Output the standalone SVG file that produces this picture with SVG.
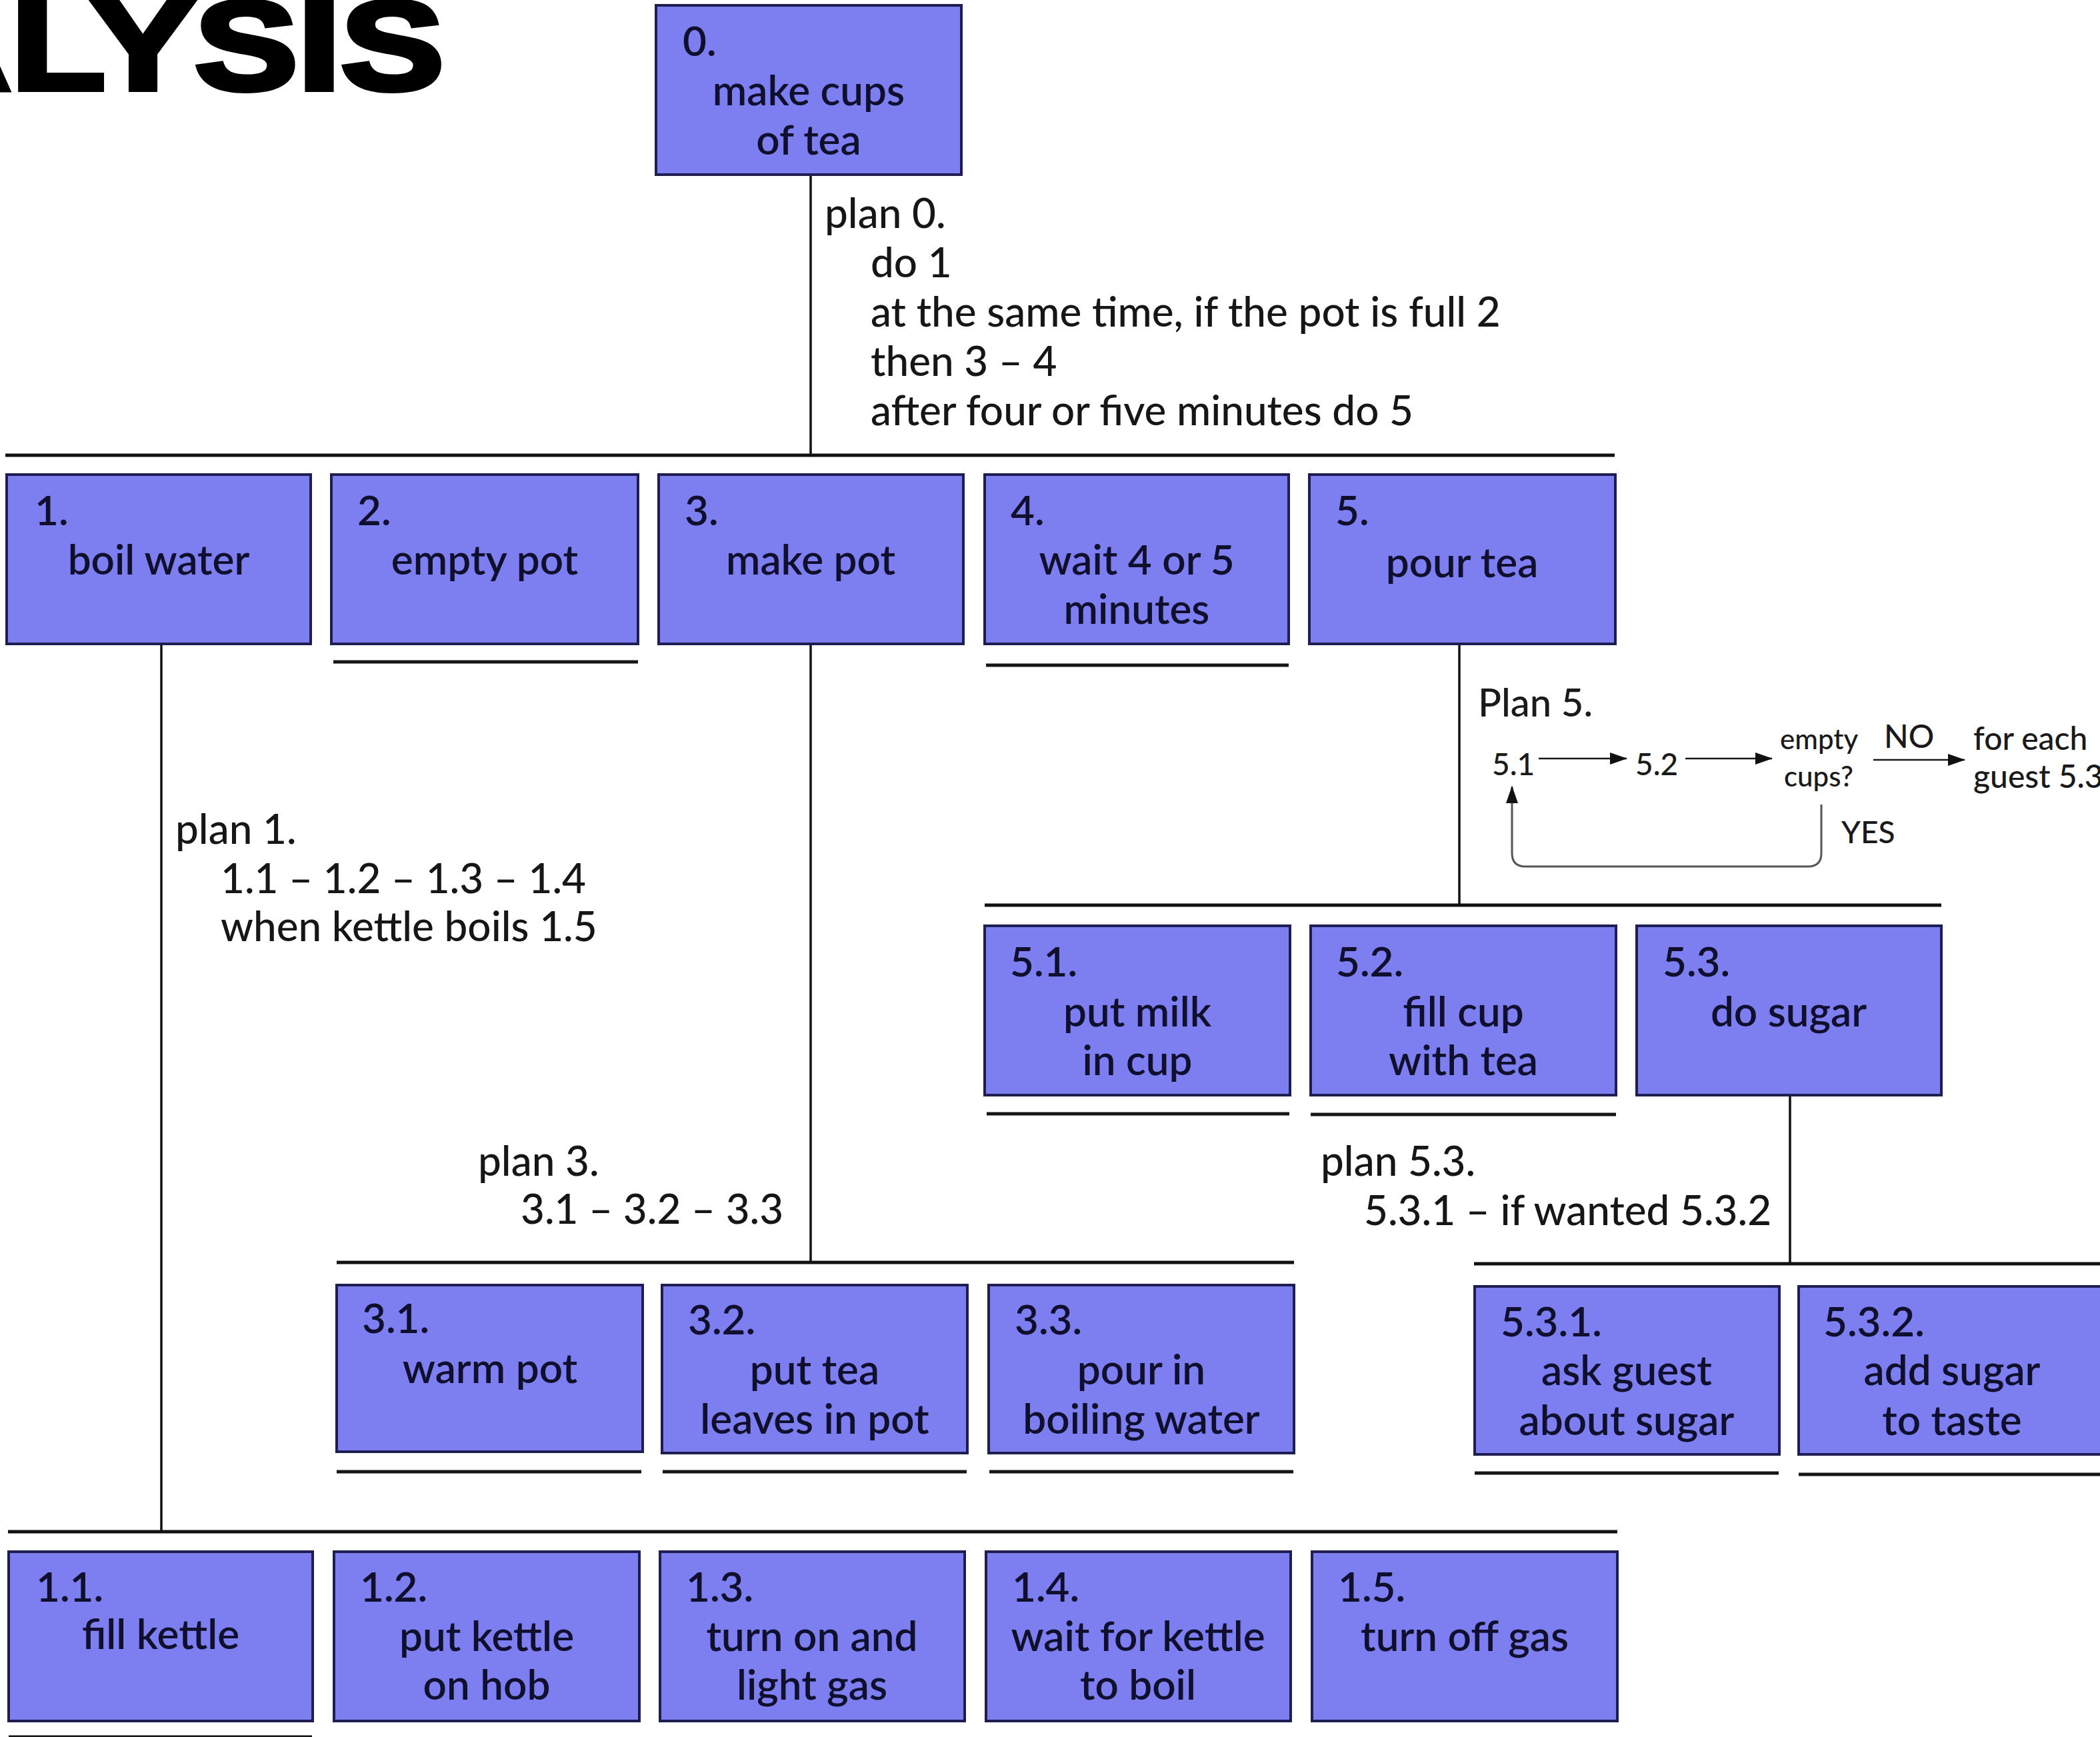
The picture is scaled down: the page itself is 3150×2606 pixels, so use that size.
<svg xmlns="http://www.w3.org/2000/svg" width="3150" height="2606" viewBox="0 0 3150 2606">
<style>
.box{fill:#7d7ff0;stroke:#1e1e52;stroke-width:4}
.t{font-family:Lato,"Open Sans","Liberation Sans",sans-serif;font-size:62px;fill:#10102e;font-weight:600}
.c{text-anchor:middle}
.p{font-family:Lato,"Open Sans","Liberation Sans",sans-serif;font-size:62px;fill:#161616;font-weight:500}
.s{font-family:Lato,"Open Sans","Liberation Sans",sans-serif;fill:#1a1a1a;font-weight:500}
.bar{stroke:#111;stroke-width:5;fill:none}
.stem{stroke:#111;stroke-width:3.5;fill:none}
.ul{stroke:#151515;stroke-width:5;fill:none}
.arr{stroke:#1a1a1a;stroke-width:2.5;fill:none;marker-end:url(#ah)}
.loop{stroke:#555;stroke-width:3;fill:none;marker-end:url(#ah)}
</style>
<defs>
<marker id="ah" markerUnits="userSpaceOnUse" markerWidth="26" markerHeight="18" refX="25" refY="9" orient="auto">
<path d="M0,0 L26,9 L0,18 z" fill="#111"/>
</marker>
</defs>
<rect width="3150" height="2606" fill="#fff"/>
<text x="-151" y="134" textLength="817" lengthAdjust="spacingAndGlyphs" font-family="'Liberation Sans',Arial,sans-serif" font-weight="bold" font-size="190" fill="#000" stroke="#000" stroke-width="8">ALYSIS</text>

<g id="connectors">
<line class="stem" x1="1216" y1="262" x2="1216" y2="683"/>
<line class="bar" x1="8" y1="683" x2="2422" y2="683"/>
<line class="stem" x1="242" y1="966" x2="242" y2="2298"/>
<line class="stem" x1="1216" y1="966" x2="1216" y2="1894"/>
<line class="stem" x1="2189" y1="966" x2="2189" y2="1358"/>
<line class="bar" x1="1477" y1="1358" x2="2912" y2="1358"/>
<line class="stem" x1="2685" y1="1643" x2="2685" y2="1896"/>
<line class="bar" x1="505" y1="1894" x2="1941" y2="1894"/>
<line class="bar" x1="2211" y1="1896" x2="3150" y2="1896"/>
<line class="bar" x1="12" y1="2298" x2="2426" y2="2298"/>
<line class="ul" x1="500" y1="993" x2="957" y2="993"/>
<line class="ul" x1="1479" y1="998" x2="1933" y2="998"/>
<line class="ul" x1="1480" y1="1671" x2="1934" y2="1671"/>
<line class="ul" x1="1966" y1="1672" x2="2424" y2="1672"/>
<line class="ul" x1="505" y1="2208" x2="962" y2="2208"/>
<line class="ul" x1="994" y1="2208" x2="1450" y2="2208"/>
<line class="ul" x1="1484" y1="2208" x2="1940" y2="2208"/>
<line class="ul" x1="2212" y1="2210" x2="2668" y2="2210"/>
<line class="ul" x1="2698" y1="2212" x2="3150" y2="2212"/>
<line class="ul" x1="13" y1="2606" x2="468" y2="2606"/>
</g>

<g id="node-0"><rect class="box" x="984" y="8" width="458" height="254"/>
<text class="t" x="1024" y="84">0.</text><text class="t c" x="1213" y="158">make cups</text><text class="t c" x="1213" y="232">of tea</text></g>

<g id="node-1"><rect class="box" x="10" y="712" width="456" height="254"/>
<text class="t" x="52" y="788">1.</text><text class="t c" x="238" y="862">boil water</text></g>
<g id="node-2"><rect class="box" x="497" y="712" width="460" height="254"/>
<text class="t" x="536" y="788">2.</text><text class="t c" x="727" y="862">empty pot</text></g>
<g id="node-3"><rect class="box" x="988" y="712" width="457" height="254"/>
<text class="t" x="1027" y="788">3.</text><text class="t c" x="1216" y="862">make pot</text></g>
<g id="node-4"><rect class="box" x="1477" y="712" width="456" height="254"/>
<text class="t" x="1516" y="788">4.</text><text class="t c" x="1705" y="862">wait 4 or 5</text><text class="t c" x="1705" y="936">minutes</text></g>
<g id="node-5"><rect class="box" x="1964" y="712" width="459" height="254"/>
<text class="t" x="2003" y="788">5.</text><text class="t c" x="2193" y="866">pour tea</text></g>

<g id="node-5-1"><rect class="box" x="1477" y="1389" width="458" height="254"/>
<text class="t" x="1515" y="1465">5.1.</text><text class="t c" x="1706" y="1540">put milk</text><text class="t c" x="1706" y="1613">in cup</text></g>
<g id="node-5-2"><rect class="box" x="1966" y="1389" width="458" height="254"/>
<text class="t" x="2004" y="1465">5.2.</text><text class="t c" x="2195" y="1540">fill cup</text><text class="t c" x="2195" y="1613">with tea</text></g>
<g id="node-5-3"><rect class="box" x="2455" y="1389" width="457" height="254"/>
<text class="t" x="2494" y="1465">5.3.</text><text class="t c" x="2683" y="1540">do sugar</text></g>

<g id="node-3-1"><rect class="box" x="505" y="1928" width="459" height="250"/>
<text class="t" x="543" y="2000">3.1.</text><text class="t c" x="735" y="2075">warm pot</text></g>
<g id="node-3-2"><rect class="box" x="993" y="1928" width="458" height="252"/>
<text class="t" x="1032" y="2002">3.2.</text><text class="t c" x="1222" y="2077">put tea</text><text class="t c" x="1222" y="2151">leaves in pot</text></g>
<g id="node-3-3"><rect class="box" x="1483" y="1928" width="458" height="252"/>
<text class="t" x="1522" y="2002">3.3.</text><text class="t c" x="1712" y="2077">pour in</text><text class="t c" x="1712" y="2151">boiling water</text></g>

<g id="node-5-3-1"><rect class="box" x="2212" y="1930" width="457" height="252"/>
<text class="t" x="2251" y="2005">5.3.1.</text><text class="t c" x="2440" y="2078">ask guest</text><text class="t c" x="2440" y="2153">about sugar</text></g>
<g id="node-5-3-2"><rect class="box" x="2698" y="1930" width="460" height="252"/>
<text class="t" x="2735" y="2005">5.3.2.</text><text class="t c" x="2928" y="2078">add sugar</text><text class="t c" x="2928" y="2153">to taste</text></g>

<g id="node-1-1"><rect class="box" x="13" y="2328" width="456" height="254"/>
<text class="t" x="54" y="2403">1.1.</text><text class="t c" x="241" y="2474">fill kettle</text></g>
<g id="node-1-2"><rect class="box" x="501" y="2328" width="458" height="254"/>
<text class="t" x="540" y="2403">1.2.</text><text class="t c" x="730" y="2477">put kettle</text><text class="t c" x="730" y="2550">on hob</text></g>
<g id="node-1-3"><rect class="box" x="990" y="2328" width="457" height="254"/>
<text class="t" x="1029" y="2403">1.3.</text><text class="t c" x="1218" y="2477">turn on and</text><text class="t c" x="1218" y="2550">light gas</text></g>
<g id="node-1-4"><rect class="box" x="1479" y="2328" width="457" height="254"/>
<text class="t" x="1518" y="2403">1.4.</text><text class="t c" x="1707" y="2477">wait for kettle</text><text class="t c" x="1707" y="2550">to boil</text></g>
<g id="node-1-5"><rect class="box" x="1968" y="2328" width="458" height="254"/>
<text class="t" x="2007" y="2403">1.5.</text><text class="t c" x="2197" y="2477">turn off gas</text></g>

<g id="plan-0">
<text class="p" x="1237" y="342">plan 0.</text>
<text class="p" x="1306" y="416">do 1</text>
<text class="p" x="1306" y="490">at the same time, if the pot is full 2</text>
<text class="p" x="1306" y="564">then 3 – 4</text>
<text class="p" x="1306" y="638">after four or five minutes do 5</text>
</g>
<g id="plan-1">
<text class="p" x="263" y="1266">plan 1.</text>
<text class="p" x="331" y="1340">1.1 – 1.2 – 1.3 – 1.4</text>
<text class="p" x="331" y="1412">when kettle boils 1.5</text>
</g>
<g id="plan-3">
<text class="p" x="717" y="1764">plan 3.</text>
<text class="p" x="781" y="1836">3.1 – 3.2 – 3.3</text>
</g>
<g id="plan-5-3">
<text class="p" x="1981" y="1764">plan 5.3.</text>
<text class="p" x="2046" y="1838">5.3.1 – if wanted 5.3.2</text>
</g>
<g id="plan-5">
<text class="s" x="2217" y="1075" font-size="58">Plan 5.</text>
<text class="s" x="2238" y="1163" font-size="46">5.1</text>
<text class="s" x="2453" y="1163" font-size="46">5.2</text>
<text class="s" x="2670" y="1124" font-size="42">empty</text>
<text class="s" x="2676" y="1180" font-size="42">cups?</text>
<text class="s" x="2826" y="1122" font-size="48">NO</text>
<text class="s" x="2960" y="1125" font-size="48">for each</text>
<text class="s" x="2960" y="1182" font-size="48">guest 5.3</text>
<text class="s" x="2762" y="1265" font-size="46">YES</text>
<line class="arr" x1="2308" y1="1138" x2="2440" y2="1138"/>
<line class="arr" x1="2528" y1="1138" x2="2658" y2="1138"/>
<line class="arr" x1="2810" y1="1140" x2="2947" y2="1140"/>
<path class="loop" d="M2732,1207 V1280 Q2732,1300 2712,1300 H2288 Q2268,1300 2268,1280 V1180"/>
</g>
</svg>
